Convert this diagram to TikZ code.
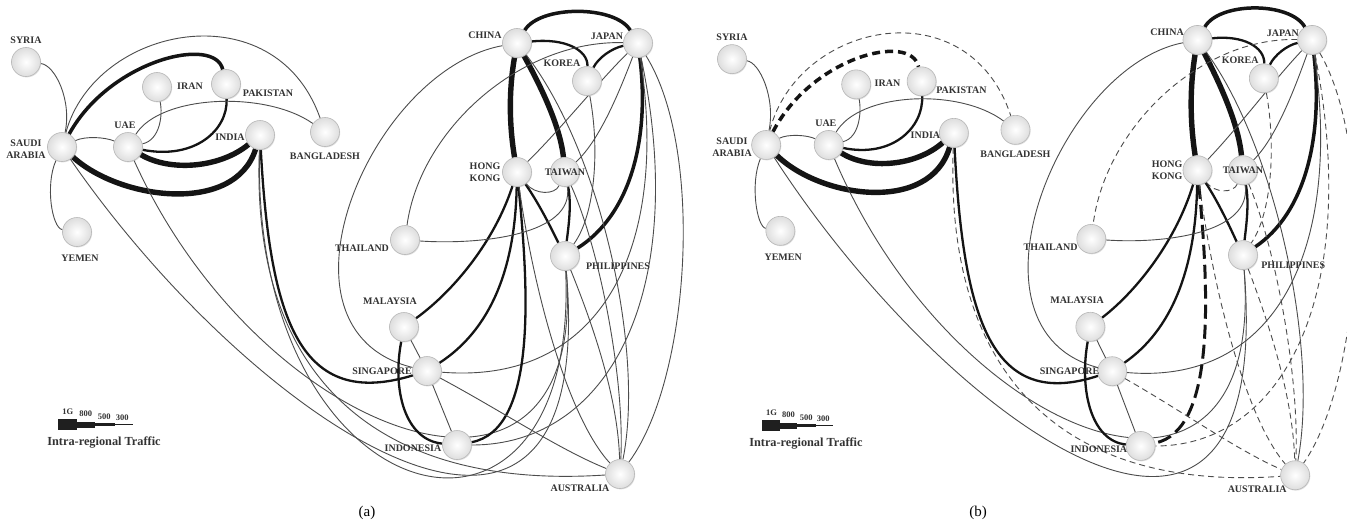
\documentclass[tikz,border=0pt]{standalone}
\usepackage{fontspec}
\setmainfont{Liberation Serif}
\usetikzlibrary{shadows}
\pgfdeclarelayer{back}
\pgfdeclarelayer{links}
\pgfsetlayers{back,links,main}

\tikzset{
  city/.style={circle, minimum size=29pt, inner sep=0pt, draw=black!28, line width=0.6pt,
    inner color=white, outer color=black!13,
    drop shadow={shadow xshift=0.7pt, shadow yshift=-0.9pt, opacity=0.25}},
  lab/.style={font=\fontsize{10}{12}\selectfont\bfseries, text=black!80, align=center, inner sep=0pt},
  lt/.style={line width=0.9pt, draw=black!70},
  l5/.style={line width=2.3pt, draw=black!92},
  l8/.style={line width=3.5pt, draw=black!92},
  lg/.style={line width=5.4pt, draw=black!92},
  % link styles that change between the two networks
  panela/.style={vt/.style={lt}, v8/.style={l8}, v5/.style={l5}, va/.style={lt}},
  panelb/.style={vt/.style={lt, dash pattern=on 6pt off 4pt},
                 v8/.style={l8, dash pattern=on 8pt off 5pt},
                 v5/.style={line width=3pt, draw=black!92, dash pattern=on 14pt off 6pt},
                 va/.style={draw=none}},
  leg/.style={font=\fontsize{8.5}{9}\selectfont\bfseries, text=black!80, inner sep=0pt},
}

\newcommand\network{%
  % cities
  \node[city] (syria)  at (26,62)  {};
  \node[city] (saudi)  at (62,147) {};
  \node[city] (iran)   at (157,87) {};
  \node[city] (pak)    at (226,84) {};
  \node[city] (uae)    at (128,147) {};
  \node[city] (india)  at (260,135) {};
  \node[city] (bang)   at (325,132) {};
  \node[city] (yemen)  at (77,232) {};
  \node[city] (china)  at (517,43) {};
  \node[city] (japan)  at (638,43) {};
  \node[city] (korea)  at (587,81) {};
  \node[city] (hk)     at (517,172) {};
  \node[city] (taiwan) at (565,172) {};
  \node[city] (thai)   at (405,240) {};
  \node[city] (phil)   at (565,256) {};
  \node[city] (malay)  at (404,327) {};
  \node[city] (sing)   at (427,371) {};
  \node[city] (indo)   at (457,445) {};
  \node[city] (aus)    at (620,474) {};
  % city names
  \node[lab] (syria-t)  at (26,40)   {SYRIA};
  \node[lab] (saudi-t)  at (26,149)  {SAUDI\\ARABIA};
  \node[lab] (iran-t)   at (190,86)  {IRAN};
  \node[lab] (pak-t)    at (268,93)  {PAKISTAN};
  \node[lab] (uae-t)    at (125,125) {UAE};
  \node[lab] (india-t)  at (230,137) {INDIA};
  \node[lab] (bang-t)   at (325,156) {BANGLADESH};
  \node[lab] (yemen-t)  at (80,258)  {YEMEN};
  \node[lab] (china-t)  at (485,35)  {CHINA};
  \node[lab] (japan-t)  at (607,36)  {JAPAN};
  \node[lab] (korea-t)  at (562,63)  {KOREA};
  \node[lab] (hk-t)     at (485,172) {HONG\\KONG};
  \node[lab] (taiwan-t) at (565,172) {TAIWAN};
  \node[lab] (thai-t)   at (362,248) {THAILAND};
  \node[lab] (phil-t)   at (618,266) {PHILIPPINES};
  \node[lab] (malay-t)  at (390,301) {MALAYSIA};
  \node[lab] (sing-t)   at (382,371) {SINGAPORE};
  \node[lab] (indo-t)   at (413,448) {INDONESIA};
  \node[lab] (aus-t)    at (580,488) {AUSTRALIA};
  % links
  \begin{pgfonlayer}{links}
  \draw[lt] (syria) .. controls (55,65) and (72,100) .. (saudi);
  \draw[lt] (yemen) .. controls (52,228) and (45,185) .. (saudi);
  \draw[lt] (saudi) .. controls (85,136) and (105,137) .. (uae);
  \draw[v8] (saudi) .. controls (110,60) and (215,35) .. (pak);
  \draw[vt] (saudi) .. controls (95,25) and (275,-10) .. (bang);
  \draw[lg] (saudi) .. controls (120,200) and (235,215) .. (india);
  \draw[lg] (uae) .. controls (170,172) and (220,168) .. (india);
  \draw[l5] (uae) .. controls (195,160) and (228,130) .. (pak);
  \draw[lt] (uae) .. controls (160,140) and (163,115) .. (iran);
  \draw[lt] (uae) .. controls (160,95) and (265,90) .. (bang);
  \draw[l5] (india) .. controls (270,320) and (300,410) .. (sing);
  \draw[vt] (india) .. controls (250,380) and (380,490) .. (aus);
  \draw[va] (india) .. controls (250,520) and (580,600) .. (phil);
  \draw[lt] (saudi) .. controls (250,420) and (600,660) .. (phil);
  \draw[lt] (uae) .. controls (260,440) and (590,560) .. (phil);
  \draw[l8] (china) .. controls (540,5) and (615,5) .. (japan);
  \draw[l5] (china) .. controls (565,38) and (588,50) .. (korea);
  \draw[l5] (japan) .. controls (612,48) and (598,58) .. (korea);
  \draw[lg] (china) .. controls (508,95) and (510,130) .. (hk);
  \draw[lg] (china) .. controls (540,85) and (560,125) .. (taiwan);
  \draw[lt] (china) .. controls (370,70) and (260,330) .. (sing);
  \draw[vt] (japan) .. controls (520,40) and (420,130) .. (thai);
  \draw[lt] (japan) .. controls (600,80) and (560,130) .. (hk);
  \draw[lt] (japan) .. controls (620,90) and (600,140) .. (taiwan);
  \draw[l8] (japan) .. controls (650,140) and (630,215) .. (phil);
  \draw[lt] (japan) .. controls (670,250) and (600,385) .. (sing);
  \draw[vt] (japan) .. controls (690,290) and (610,445) .. (indo);
  \draw[vt] (japan) .. controls (705,150) and (690,380) .. (aus);
  \draw[l5] (hk) .. controls (495,240) and (455,290) .. (malay);
  \draw[l5] (hk) .. controls (515,270) and (490,330) .. (sing);
  \draw[v5] (hk) .. controls (530,300) and (535,430) .. (indo);
  \draw[l5] (hk) .. controls (540,205) and (552,230) .. (phil);
  \draw[vt] (hk) .. controls (535,195) and (555,195) .. (taiwan);
  \draw[vt] (hk) .. controls (535,300) and (570,420) .. (aus);
  \draw[l5] (taiwan) .. controls (572,205) and (568,230) .. (phil);
  \draw[lt] (taiwan) .. controls (575,235) and (480,245) .. (thai);
  \draw[vt] (taiwan) .. controls (600,250) and (625,380) .. (aus);
  \draw[lt] (china) .. controls (600,150) and (645,350) .. (aus);
  \draw[vt] (korea) .. controls (600,150) and (595,215) .. (phil);
  \draw[vt] (phil) .. controls (595,330) and (618,400) .. (aus);
  \draw[lt] (malay) -- (sing);
  \draw[lt] (sing) -- (indo);
  \draw[l5] (malay) .. controls (392,390) and (405,440) .. (indo);
  \draw[vt] (sing) .. controls (500,410) and (560,450) .. (aus);
  \end{pgfonlayer}
  % traffic legend
  \fill[black!88] (58,419.3) rectangle (77,430);
  \fill[black!88] (77,421.8) rectangle (95,427.8);
  \fill[black!88] (95,423.3) rectangle (115,426.3);
  \fill[black!88] (115,424.2) rectangle (133,425.2);
  \node[leg] (k1g)  at (67.7,411.7)  {1G};
  \node[leg] (k800) at (85.7,414)    {800};
  \node[leg] (k500) at (104.3,416.7) {500};
  \node[leg] (k300) at (122.3,417.7) {300};
  \node[font=\fontsize{12.3}{13}\selectfont\bfseries, text=black!80, inner sep=0pt]
    (ktitle) at (104,443) {Intra-regional Traffic};
}

\begin{document}
\begin{tikzpicture}[x=1pt, y=-1pt]
  \useasboundingbox (0,0) rectangle (1347,530);
  \begin{pgfonlayer}{back}
    \fill[white] (0,0) rectangle (1347,530);
  \end{pgfonlayer}

  \begin{scope}[name prefix=a-, panela]
    \network
  \end{scope}

  \begin{scope}[name prefix=b-, panelb, xshift=707.35pt, xscale=0.948, yshift=3.5pt, yscale=1.01]
    \network
  \end{scope}

  \node[font=\fontsize{15}{15}\selectfont] (cap-a) at (367,513) {(a)};
  \node[font=\fontsize{15}{15}\selectfont] (cap-b) at (978,513) {(b)};
\end{tikzpicture}
\end{document}
